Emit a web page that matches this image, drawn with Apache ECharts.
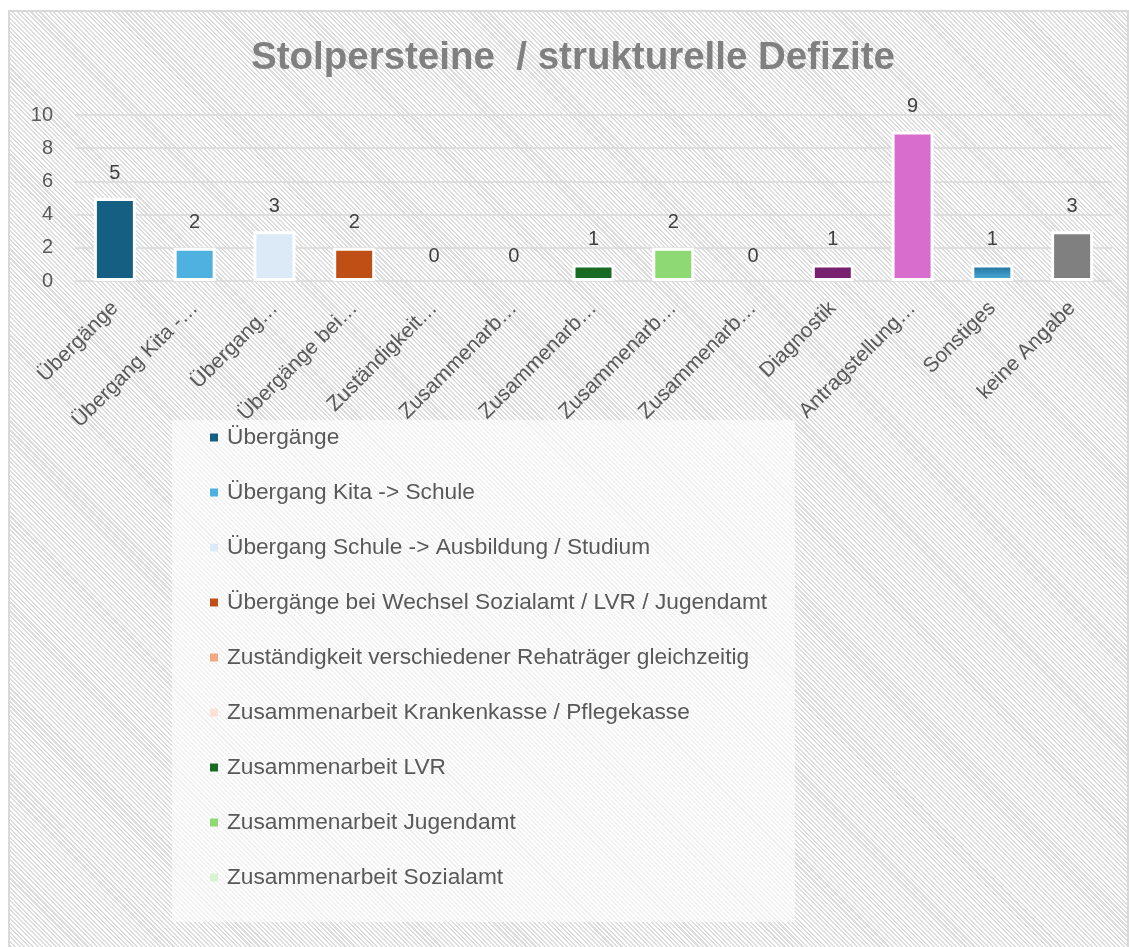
<!DOCTYPE html>
<html>
<head>
<meta charset="utf-8">
<script src="https://cdn.jsdelivr.net/npm/echarts@6/dist/echarts.min.js"></script>
<style>
  html, body { margin: 0; padding: 0; background: #ffffff; width: 1129px; height: 947px; overflow: hidden; }
  #bg {
    position: absolute; left: 8px; top: 10px; width: 1117px; height: 960px;
    border: 2px solid #d9d9d9;
    background: repeating-linear-gradient(45deg, #ffffff 0px, #ffffff 1.7px, #dcdcdc 1.7px, #dcdcdc 3.2px);
  }
  #chart { position: absolute; left: 0; top: 0; width: 1129px; height: 947px; }
</style>
</head>
<body>
<div id="bg"></div>
<div id="chart"></div>
<script>
const titleText = 'Stolpersteine  / strukturelle Defizite';
const categories = [
  'Übergänge',
  'Übergang Kita -> Schule',
  'Übergang Schule -> Ausbildung / Studium',
  'Übergänge bei Wechsel Sozialamt / LVR / Jugendamt',
  'Zuständigkeit verschiedener Rehaträger gleichzeitig',
  'Zusammenarbeit Krankenkasse / Pflegekasse',
  'Zusammenarbeit LVR',
  'Zusammenarbeit Jugendamt',
  'Zusammenarbeit Sozialamt',
  'Diagnostik',
  'Antragstellung',
  'Sonstiges',
  'keine Angabe'
];
const tickLabels = [
  'Übergänge',
  'Übergang Kita -…',
  'Übergang…',
  'Übergänge bei…',
  'Zuständigkeit…',
  'Zusammenarb…',
  'Zusammenarb…',
  'Zusammenarb…',
  'Zusammenarb…',
  'Diagnostik',
  'Antragstellung…',
  'Sonstiges',
  'keine Angabe'
];
const values = [5, 2, 3, 2, 0, 0, 1, 2, 0, 1, 9, 1, 3];
const barColors = [
  '#156082', '#4eb1e0', '#dceaf7', '#c04f15', '#f1a983', '#fbe2d5',
  '#196b24', '#8ed973', '#d9f2d0', '#77206d', '#d86dcd', 'gradient', '#808080'
];
const legendCount = 9;
const yTicks = { min: 0, max: 10, interval: 2 };

const FONT = '"Liberation Sans", Arial, sans-serif';
const chart = echarts.init(document.getElementById('chart'), null, { renderer: 'canvas' });

function colorFor(c) {
  if (c === 'gradient') {
    return new echarts.graphic.LinearGradient(0, 0, 0, 1, [
      { offset: 0, color: '#1d6a93' },
      { offset: 1, color: '#4fb5e1' }
    ]);
  }
  return c;
}

const series = categories.map((name, i) => ({
  type: 'bar',
  name: name,
  barWidth: 42,
  barGap: '-100%',
  data: values.map((v, j) => (j === i ? v : '-')),
  itemStyle: {
    color: colorFor(barColors[i]),
    borderColor: '#ffffff',
    borderWidth: values[i] > 0 ? 3 : 0
  },
  label: {
    show: true,
    position: 'top',
    distance: 15,
    color: '#404040',
    fontSize: 20,
    fontFamily: FONT
  },
  emphasis: { disabled: true }
}));

const option = {
  animation: false,
  backgroundColor: 'transparent',
  title: {
    text: titleText,
    left: 246,
    top: 34,
    textStyle: { fontFamily: FONT, fontWeight: 'bold', fontSize: 38.5, color: '#808080' }
  },
  graphic: [{
    type: 'rect',
    z: -1,
    shape: { x: 172, y: 420, width: 623, height: 502 },
    style: { fill: 'rgba(255,255,255,0.6)' }
  }],
  legend: {
    orient: 'vertical',
    left: 210,
    top: 426,
    padding: 0,
    itemGap: 32,
    itemWidth: 8,
    itemHeight: 8,
    icon: 'rect',
    data: categories.slice(0, legendCount),
    itemStyle: { borderWidth: 0 },
    textStyle: { fontFamily: FONT, fontSize: 22.7, color: '#595959', lineHeight: 22, padding: [0, 0, 0, 4] }
  },
  grid: { left: 75, right: 17, top: 115, bottom: 666, containLabel: false },
  xAxis: {
    type: 'category',
    data: categories,
    axisLine: { show: false },
    axisTick: { show: false },
    axisLabel: {
      interval: 0,
      rotate: 45,
      margin: 24,
      fontFamily: FONT,
      fontSize: 21,
      color: '#595959',
      formatter: (v, idx) => tickLabels[idx]
    }
  },
  yAxis: {
    type: 'value',
    min: yTicks.min,
    max: yTicks.max,
    interval: yTicks.interval,
    axisLine: { show: false },
    axisTick: { show: false },
    axisLabel: { margin: 22, fontFamily: FONT, fontSize: 20, color: '#595959' },
    splitLine: { lineStyle: { color: '#d9d9d9', width: 1.5 } }
  },
  series: series
};
chart.setOption(option);
</script>
</body>
</html>
